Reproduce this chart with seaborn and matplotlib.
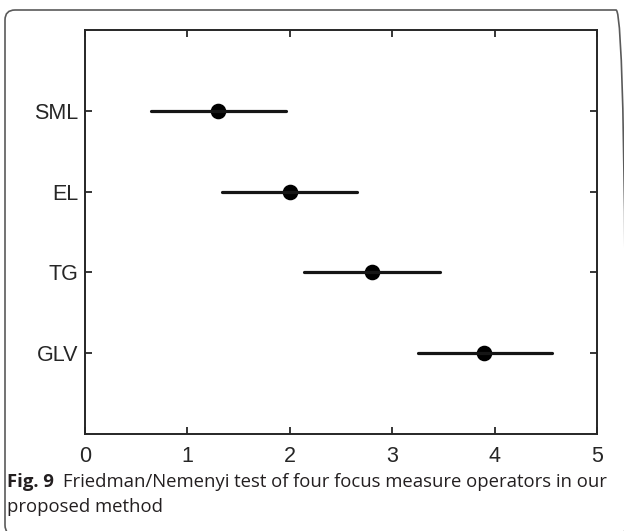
import matplotlib
matplotlib.use("Agg")
import matplotlib.pyplot as plt
import seaborn as sns
import pandas as pd
from matplotlib.patches import FancyBboxPatch

methods = ["SML", "EL", "TG", "GLV"]
mean_rank = [1.30, 2.00, 2.80, 3.90]
lower = [0.64, 1.34, 2.14, 3.25]
upper = [1.96, 2.66, 3.47, 4.56]
x_ticks = [0, 1, 2, 3, 4, 5]

rows = []
for m, lo, c, hi in zip(methods, lower, mean_rank, upper):
    for v in (lo, c, hi):
        rows.append({"method": m, "rank": v})
df = pd.DataFrame(rows)

sns.set_theme(style="white")
plt.rcParams["font.family"] = ["Liberation Sans", "DejaVu Sans"]

W, H = 624, 531
fig = plt.figure(figsize=(W / 100, H / 100), dpi=100)
fig.patch.set_facecolor("white")

# caption frame
x0, y0, x1, y1 = 5, 10, 626, 535
frame = FancyBboxPatch((x0 / W, 1 - y1 / H), (x1 - x0) / W, (y1 - y0) / H,
                       boxstyle="round,pad=0,rounding_size=0.016",
                       transform=fig.transFigure, facecolor="none",
                       edgecolor="#5a5a5a", linewidth=1.2, mutation_aspect=W / H)
fig.patches.append(frame)

ax = fig.add_axes([85 / W, 1 - 434 / H, 512 / W, 404 / H])
sns.pointplot(data=df, x="rank", y="method", order=methods, orient="h",
              estimator="median", errorbar=lambda v: (v.min(), v.max()),
              linestyle="none", color="black", marker="o", markersize=9.2,
              err_kws={"linewidth": 2.3, "color": "#151515"}, ax=ax)

ax.set_xlim(0, 5)
ax.set_ylim(4, -1)
ax.set_xticks(x_ticks)
ax.set_xticklabels([str(t) for t in x_ticks])
ax.set_xlabel("")
ax.set_ylabel("")
for s in ax.spines.values():
    s.set_visible(True)
    s.set_color("#262626")
    s.set_linewidth(1.4)
ax.tick_params(axis="both", which="both", direction="in", length=5, width=1.3,
               color="#262626", labelsize=15.5, labelcolor="#262626",
               top=True, right=True, bottom=True, left=True)
ax.tick_params(axis="x", pad=9)
ax.tick_params(axis="y", pad=5)

# caption
cap_color = "#231f20"
fam = ["Open Sans", "DejaVu Sans"]
fs = 13.3
t1 = fig.text(7 / W, 1 - 482 / H, "Fig. 9", fontsize=fs, fontweight="bold",
              family=fam, color=cap_color, va="center", ha="left")
fig.canvas.draw()
bb = t1.get_window_extent(renderer=fig.canvas.get_renderer())
x_after = bb.x1 / W + 9 / W
fig.text(x_after, 1 - 482 / H,
         "Friedman/Nemenyi test of four focus measure operators in our",
         fontsize=fs, family=fam, color=cap_color, va="center", ha="left")
fig.text(7 / W, 1 - 507 / H, "proposed method", fontsize=fs, family=fam,
         color=cap_color, va="center", ha="left")

fig.savefig("out.png", dpi=100)
